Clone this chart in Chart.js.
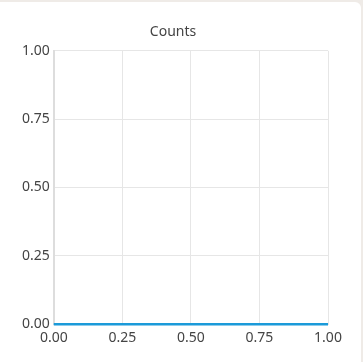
<!DOCTYPE html>
<html>
<head>
<meta charset="utf-8">
<script src="https://cdn.jsdelivr.net/npm/chart.js@4"></script>
<style>
    html, body {
        margin: 0;
        padding: 0;
        background: #efebe7;
    }
    .card {
        position: absolute;
        left: 0;
        top: 2px;
        width: 361px;
        height: 360px;
        background: #fff;
        border-radius: 0 6px 0 0;
    }
</style>
</head>
<body>
<div class="card">
    <canvas id="countsChart" width="361" height="360"></canvas>
</div>
<script>
const xValues = [0, 1];
const countValues = [0, 0];
const tituloGrafica = 'Counts';

document.addEventListener('DOMContentLoaded', () => {
    const puntos = xValues.map((x, i) => ({ x: x, y: countValues[i] }));
    const fuente = { family: "'Noto Sans', 'Open Sans', sans-serif", size: 14 };
    const formato = v => Number(v).toFixed(2);

    const ctx = document.getElementById('countsChart').getContext('2d');
    new Chart(ctx, {
        type: 'scatter',
        data: {
            datasets: [{
                label: 'Counts',
                data: puntos,
                showLine: true,
                borderColor: '#1b9ad9',
                backgroundColor: '#1b9ad9',
                borderWidth: 2.5,
                pointRadius: 0,
                fill: false,
                clip: false
            }]
        },
        options: {
            responsive: false,
            animation: false,
            layout: {
                padding: { left: 18, right: 33, top: 0, bottom: 11 }
            },
            plugins: {
                legend: { display: false },
                tooltip: { enabled: false },
                title: {
                    display: true,
                    text: tituloGrafica,
                    color: '#444',
                    font: { family: fuente.family, size: 14, weight: 'normal' },
                    padding: { top: 22, bottom: 10 }
                }
            },
            scales: {
                x: {
                    type: 'linear',
                    min: 0,
                    max: 1,
                    ticks: {
                        stepSize: 0.25,
                        callback: formato,
                        color: '#444',
                        font: fuente,
                        padding: 5,
                        maxRotation: 0
                    },
                    grid: { color: '#e6e6e6', drawTicks: false },
                    border: { color: '#e6e6e6', width: 1 }
                },
                y: {
                    min: 0,
                    max: 1,
                    ticks: {
                        stepSize: 0.25,
                        callback: formato,
                        color: '#444',
                        font: fuente,
                        padding: 4
                    },
                    grid: { color: '#e6e6e6', drawTicks: false },
                    border: { color: '#dddddd', width: 2 }
                }
            }
        }
    });
});
</script>
</body>
</html>
